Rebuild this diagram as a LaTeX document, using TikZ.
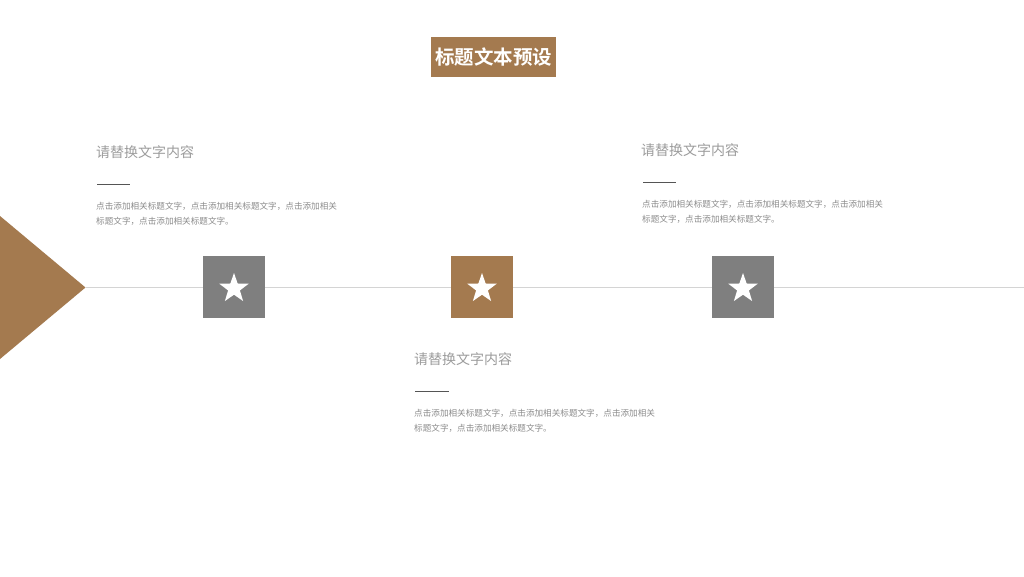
\documentclass[tikz,border=0pt]{standalone}
\usepackage{fontspec}
\setmainfont{Noto Sans CJK SC}
\newfontfamily\cjkbold{Noto Sans CJK SC Bold}
\usetikzlibrary{shapes.geometric}
\definecolor{brownc}{HTML}{A47A4F}
\definecolor{grayc}{HTML}{7F7F7F}
\definecolor{linec}{HTML}{D4D4D4}
\definecolor{headc}{HTML}{9C9C9C}
\definecolor{bodyc}{HTML}{8C8C8C}
\definecolor{rulec}{HTML}{555555}
\tikzset{
  sqbox/.style={draw=none, minimum size=62pt, inner sep=0pt},
  starshape/.style={star, star points=5, star point ratio=2.5, fill=white, draw=none, minimum size=31pt, inner sep=0pt},
  headtxt/.style={anchor=west, inner sep=0pt, text=headc, font=\fontsize{14}{15}\selectfont},
  bodytxt/.style={anchor=north west, inner sep=0pt, text=bodyc, align=left, font=\fontsize{8.6}{15}\selectfont},
  shortrule/.style={draw=rulec, line width=1pt}
}
\begin{document}
\begin{tikzpicture}[x=1pt,y=-1pt]
\useasboundingbox (0,0) rectangle (1024,576);
\fill[white] (0,0) rectangle (1024,576);
% title
\node[fill=brownc, text=white, minimum width=125pt, minimum height=40pt, inner sep=0pt, font=\cjkbold\fontsize{19.5}{20}\selectfont] (title) at (493.5,57) {标题文本预设};
% triangle and line
\coordinate (tA) at (0,216);
\coordinate (tip) at (85.5,287.5);
\coordinate (tB) at (0,359);
\coordinate (lend) at (1024,287.5);
\fill[brownc] (tA) -- (tip) -- (tB) -- cycle;
\draw[linec, line width=0.8pt] (tip) -- (lend);
% squares
\node[sqbox, fill=grayc] (s1) at (234,287) {};
\node[sqbox, fill=brownc] (s2) at (482,287) {};
\node[sqbox, fill=grayc] (s3) at (743,287) {};
\node[starshape] (st1) at ([yshift=-1.5pt]s1.center) {};
\node[starshape] (st2) at ([yshift=-1.5pt]s2.center) {};
\node[starshape] (st3) at ([yshift=-1.5pt]s3.center) {};
% block 1
\node[headtxt] (h1) at (96,152) {请替换文字内容};
\coordinate (r1a) at (97,184);
\coordinate (r1b) at (130,184);
\draw[shortrule] (r1a) -- (r1b);
\node[bodytxt] (b1) at (96,202.5) {点击添加相关标题文字，点击添加相关标题文字，点击添加相关\\标题文字，点击添加相关标题文字。};
% block 2
\node[headtxt] (h2) at (641,150) {请替换文字内容};
\coordinate (r2a) at (643,182);
\coordinate (r2b) at (676,182);
\draw[shortrule] (r2a) -- (r2b);
\node[bodytxt] (b2) at (642,200.5) {点击添加相关标题文字，点击添加相关标题文字，点击添加相关\\标题文字，点击添加相关标题文字。};
% block 3
\node[headtxt] (h3) at (414,359) {请替换文字内容};
\coordinate (r3a) at (415,391);
\coordinate (r3b) at (449,391);
\draw[shortrule] (r3a) -- (r3b);
\node[bodytxt] (b3) at (414,409.5) {点击添加相关标题文字，点击添加相关标题文字，点击添加相关\\标题文字，点击添加相关标题文字。};
\end{tikzpicture}
\end{document}
